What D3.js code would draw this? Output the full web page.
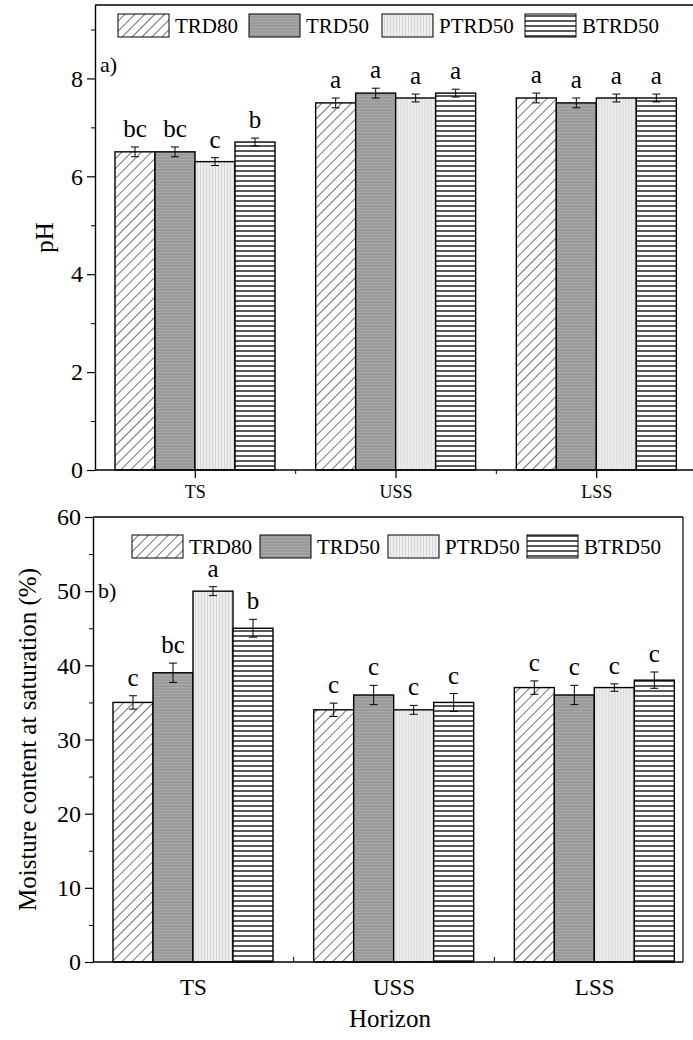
<!doctype html>
<html>
<head>
<meta charset="utf-8">
<script src="https://cdnjs.cloudflare.com/ajax/libs/d3/7.8.5/d3.min.js"></script>
<style>
  body { margin: 0; background: #fff; }
  svg, svg text { font-family: "Times New Roman", "Liberation Serif", Times, serif; }
</style>
</head>
<body>
<svg id="chart" width="693" height="1040"></svg>
<script>
// ---- data ----
var horizons = ["TS", "USS", "LSS"];
var treatments = ["TRD80", "TRD50", "PTRD50", "BTRD50"];

var phValues = [[6.5, 6.5, 6.3, 6.7], [7.5, 7.7, 7.6, 7.7], [7.6, 7.5, 7.6, 7.6]];
var phErrors = [[0.1, 0.1, 0.08, 0.08], [0.1, 0.1, 0.08, 0.08], [0.1, 0.1, 0.08, 0.08]];
var phLetters = [["bc", "bc", "c", "b"], ["a", "a", "a", "a"], ["a", "a", "a", "a"]];
var phTicks = [0, 2, 4, 6, 8];

var mcValues = [[35, 39, 50, 45], [34, 36, 34, 35], [37, 36, 37, 38]];
var mcErrors = [[0.9, 1.3, 0.6, 1.2], [0.9, 1.3, 0.6, 1.2], [0.9, 1.3, 0.5, 1.1]];
var mcLetters = [["c", "bc", "a", "b"], ["c", "c", "c", "c"], ["c", "c", "c", "c"]];
var mcTicks = [0, 10, 20, 30, 40, 50, 60];

var FONT = '"Times New Roman", "Liberation Serif", Times, serif';

var svg = d3.select("#chart");
var defs = svg.append("defs");

// patterns
var p1 = defs.append("pattern").attr("id", "pat0").attr("patternUnits", "userSpaceOnUse")
  .attr("width", 7).attr("height", 7).attr("patternTransform", "rotate(45)");
p1.append("rect").attr("width", 7).attr("height", 7).attr("fill", "#fff");
p1.append("line").attr("x1", 0).attr("y1", 0).attr("x2", 0).attr("y2", 7).attr("stroke", "#000").attr("stroke-width", 1.1);

var p2 = defs.append("pattern").attr("id", "pat1").attr("patternUnits", "userSpaceOnUse")
  .attr("width", 4).attr("height", 3);
p2.append("rect").attr("width", 4).attr("height", 3).attr("fill", "#9b9b9b");
p2.append("line").attr("x1", 0).attr("y1", 0.5).attr("x2", 4).attr("y2", 0.5).attr("stroke", "#a8a8a8").attr("stroke-width", 1);

var p3 = defs.append("pattern").attr("id", "pat2").attr("patternUnits", "userSpaceOnUse")
  .attr("width", 3).attr("height", 4);
p3.append("rect").attr("width", 3).attr("height", 4).attr("fill", "#eeeeee");
p3.append("line").attr("x1", 0.5).attr("y1", 0).attr("x2", 0.5).attr("y2", 4).attr("stroke", "#d6d6d6").attr("stroke-width", 1);

var p4 = defs.append("pattern").attr("id", "pat3").attr("patternUnits", "userSpaceOnUse")
  .attr("width", 5).attr("height", 5);
p4.append("rect").attr("width", 5).attr("height", 5).attr("fill", "#fff");
p4.append("line").attr("x1", 0).attr("y1", 1).attr("x2", 5).attr("y2", 1).attr("stroke", "#000").attr("stroke-width", 1.3);

function fillOf(i) { return "url(#pat" + i + ")"; }

function txt(sel) { return sel.style("font-family", FONT).attr("fill", "#000"); }

function drawPanel(o) {
  var g = svg.append("g");
  var x = d3.scaleBand().domain(horizons).range([o.left, o.left + 602]);
  var xs = d3.scaleBand().domain(treatments).range([20, 180]);
  var y = d3.scaleLinear().domain(o.domain).range([o.bottom, o.top]);

  // bars
  horizons.forEach(function(h, hi) {
    var gg = g.append("g").attr("transform", "translate(" + x(h) + ",0)");
    gg.selectAll("rect").data(o.values[hi]).enter().append("rect")
      .attr("x", function(d, i) { return xs(treatments[i]); })
      .attr("y", function(d) { return y(d); })
      .attr("width", xs.bandwidth())
      .attr("height", function(d) { return y(0) - y(d); })
      .attr("fill", function(d, i) { return fillOf(i); })
      .attr("stroke", "#000").attr("stroke-width", 1.4);
    // error bars + letters
    o.values[hi].forEach(function(v, i) {
      var cx = xs(treatments[i]) + xs.bandwidth() / 2;
      var e = o.errors[hi][i];
      gg.append("line").attr("x1", cx).attr("x2", cx).attr("y1", y(v - e)).attr("y2", y(v + e))
        .attr("stroke", "#000").attr("stroke-width", 1);
      [v - e, v + e].forEach(function(t) {
        gg.append("line").attr("x1", cx - 4).attr("x2", cx + 4).attr("y1", y(t)).attr("y2", y(t))
          .attr("stroke", "#000").attr("stroke-width", 1);
      });
      txt(gg.append("text")).attr("x", cx).attr("y", y(v + e) - 10)
        .attr("text-anchor", "middle").attr("font-size", 25)
        .text(o.letters[hi][i]);
    });
  });

  // y axis
  var yAxis = d3.axisLeft(y).tickValues(o.ticks).tickSize(8).tickSizeOuter(0).tickPadding(4);
  var ya = g.append("g").attr("transform", "translate(" + o.left + ",0)").call(yAxis);
  ya.attr("font-family", null);
  ya.select(".domain").attr("stroke-width", 1.4);
  ya.selectAll(".tick line").attr("stroke-width", 1.2);
  txt(ya.selectAll(".tick text")).attr("font-size", 24);
  var minor = d3.axisLeft(y).tickValues(o.minor).tickSize(4).tickSizeOuter(0).tickFormat("");
  g.append("g").attr("transform", "translate(" + o.left + ",0)").call(minor).select(".domain").remove();

  // x axis line + top frame
  g.append("line").attr("x1", o.left).attr("x2", o.right).attr("y1", o.bottom).attr("y2", o.bottom)
    .attr("stroke", "#000").attr("stroke-width", 1.4);
  g.append("line").attr("x1", o.left).attr("x2", o.right).attr("y1", o.top).attr("y2", o.top)
    .attr("stroke", "#000").attr("stroke-width", 1.4);
  if (o.rightBorder) {
    g.append("line").attr("x1", o.right).attr("x2", o.right).attr("y1", o.top).attr("y2", o.bottom)
      .attr("stroke", "#000").attr("stroke-width", 1.2);
  }

  // x ticks
  if (o.centerTicks) {
    horizons.forEach(function(h) {
      var cx = x(h) + x.bandwidth() / 2;
      g.append("line").attr("x1", cx).attr("x2", cx).attr("y1", o.bottom).attr("y2", o.bottom + 8)
        .attr("stroke", "#000").attr("stroke-width", 1.2);
    });
    horizons.slice(1).forEach(function(h) {
      g.append("line").attr("x1", x(h)).attr("x2", x(h)).attr("y1", o.bottom).attr("y2", o.bottom + 4)
        .attr("stroke", "#000").attr("stroke-width", 1);
    });
  } else {
    horizons.slice(1).forEach(function(h) {
      g.append("line").attr("x1", x(h)).attr("x2", x(h)).attr("y1", o.bottom).attr("y2", o.bottom - 5)
        .attr("stroke", "#000").attr("stroke-width", 1);
    });
  }
  txt(g.selectAll(".cat").data(horizons).enter().append("text"))
    .attr("x", function(d) { return x(d) + x.bandwidth() / 2; })
    .attr("y", o.bottom + o.catDy)
    .attr("text-anchor", "middle").attr("font-size", o.catSize)
    .text(function(d) { return d; });

  // panel label
  txt(g.append("text")).attr("x", o.left + 5).attr("y", o.labelY).attr("font-size", 22).text(o.label);

  // legend
  treatments.forEach(function(t, i) {
    g.append("rect").attr("x", o.legX[i]).attr("y", o.legY).attr("width", 51).attr("height", 23)
      .attr("fill", fillOf(i)).attr("stroke", "#000").attr("stroke-width", 1);
    txt(g.append("text")).attr("x", o.legX[i] + 57).attr("y", o.legY + 19).attr("font-size", 21).text(t);
  });

  // y title
  txt(g.append("text")).attr("transform", "translate(" + o.titleX + "," + ((o.top + o.bottom) / 2) + ") rotate(-90)")
    .attr("text-anchor", "middle").attr("font-size", 25).text(o.title);
}

drawPanel({
  left: 95, right: 693, top: 5, bottom: 470, domain: [0, 9.5],
  values: phValues, errors: phErrors, letters: phLetters,
  ticks: phTicks, minor: [1, 3, 5, 7, 9],
  centerTicks: true, rightBorder: false, catDy: 28, catSize: 18,
  label: "a)", labelY: 72, legX: [118, 249, 382, 525], legY: 14,
  title: "pH", titleX: 53
});

drawPanel({
  left: 93, right: 683, top: 517, bottom: 962, domain: [0, 60],
  values: mcValues, errors: mcErrors, letters: mcLetters,
  ticks: mcTicks, minor: [5, 15, 25, 35, 45, 55],
  centerTicks: false, rightBorder: true, catDy: 33, catSize: 23,
  label: "b)", labelY: 598, legX: [132, 260, 388, 527], legY: 535,
  title: "Moisture content at saturation (%)", titleX: 36
});

txt(svg.append("text")).attr("x", 390).attr("y", 1027).attr("text-anchor", "middle")
  .attr("font-size", 25).text("Horizon");
</script>
</body>
</html>
